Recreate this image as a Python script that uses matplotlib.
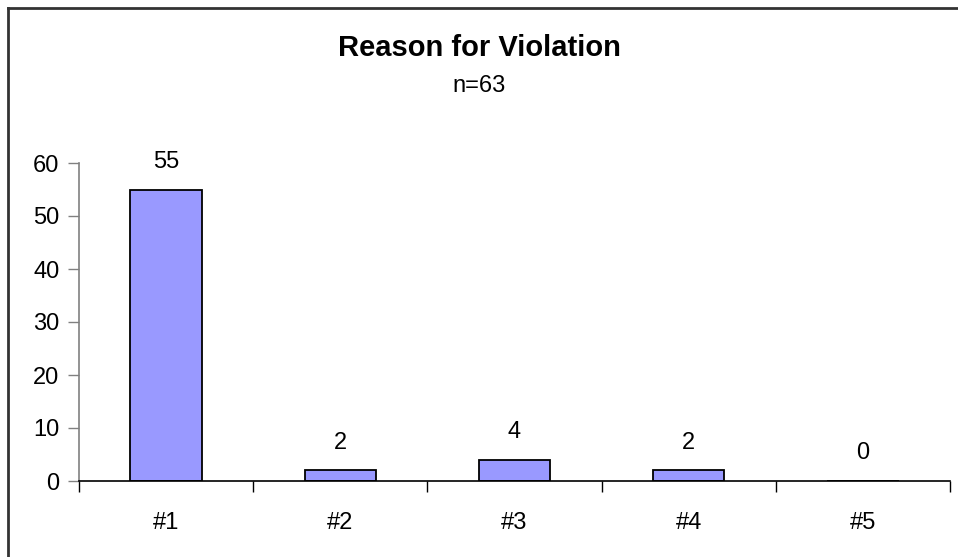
import matplotlib
matplotlib.use("Agg")
import matplotlib.pyplot as plt
from matplotlib.lines import Line2D
import numpy as np

plt.rcParams["font.family"] = ["Liberation Sans", "DejaVu Sans"]

# data
categories = ["#1", "#2", "#3", "#4", "#5"]
counts = [55, 2, 4, 2, 0]
yticks = [0, 10, 20, 30, 40, 50, 60]
title = "Reason for Violation"
subtitle = "n=63"

W, H = 958, 557
fig = plt.figure(figsize=(W / 100, H / 100), dpi=100)

# axes placed by pixel positions
left, right, bottom, top = 79, 950, 481, 163
ax = fig.add_axes([left / W, 1 - bottom / H, (right - left) / W, (bottom - top) / H])

x = np.arange(len(categories))
ax.bar(x, counts, width=0.41, color="#9999FF", edgecolor="black", linewidth=1.3, zorder=3)

ax.set_xlim(-0.5, len(categories) - 0.5)
ax.set_ylim(0, 60)
ax.set_yticks(yticks)
ax.set_yticklabels([str(v) for v in yticks], fontsize=17)

# category labels centered, tick marks between categories
ax.set_xticks(np.arange(-0.5, len(categories)))
ax.set_xticklabels([])
ax.set_xticks(x, minor=True)
ax.set_xticklabels(categories, minor=True, fontsize=17)
ax.tick_params(axis="x", which="minor", length=0, pad=22)
ax.tick_params(axis="x", which="major", length=8, width=1, color="black", direction="out")
ax.tick_params(axis="y", length=8, width=1, color="#808080", pad=6, direction="out")

for s in ["top", "right"]:
    ax.spines[s].set_visible(False)
ax.spines["left"].set_color("#808080")
ax.spines["left"].set_linewidth(1.2)
ax.spines["bottom"].set_color("black")
ax.spines["bottom"].set_linewidth(1.2)
ax.spines["bottom"].set_zorder(4)

# value labels above bars
for xi, v in zip(x, counts):
    ax.annotate(str(v), (xi, v), xytext=(0, 20), textcoords="offset points",
                ha="center", va="center", fontsize=17)

fig.text(0.5, 1 - 48 / H, title, ha="center", va="center", fontsize=21, fontweight="bold")
fig.text(0.5, 1 - 86 / H, subtitle, ha="center", va="center", fontsize=17)

# chart area border (left and top edges visible, rest cropped)
fig.add_artist(Line2D([7.5 / W, 7.5 / W], [0, 1 - 7.5 / H], color="#333333", linewidth=2))
fig.add_artist(Line2D([7.5 / W, 1], [1 - 7.5 / H, 1 - 7.5 / H], color="#333333", linewidth=2))

fig.savefig("out.png", dpi=100)
